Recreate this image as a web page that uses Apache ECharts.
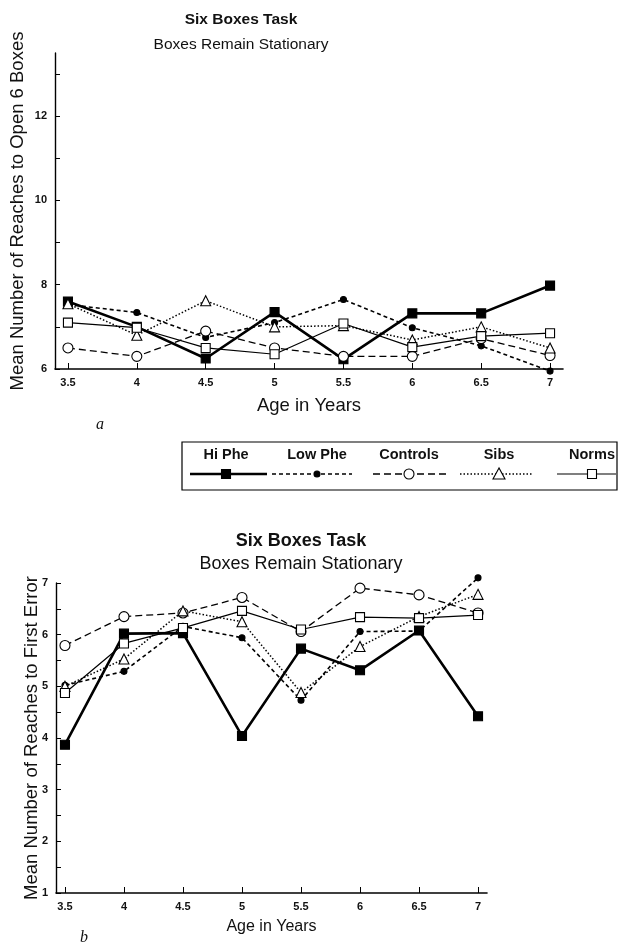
<!DOCTYPE html>
<html>
<head>
<meta charset="utf-8">
<script src="https://cdn.jsdelivr.net/npm/echarts@6/dist/echarts.min.js"></script>
<style>
  html, body { margin: 0; padding: 0; background: #fff; }
  #main { width: 625px; height: 949px; }
</style>
</head>
<body>
<div id="main"></div>
<script>
var ages = [3.5, 4, 4.5, 5, 5.5, 6, 6.5, 7];
var groups = ['Hi Phe', 'Low Phe', 'Controls', 'Sibs', 'Norms'];

// panel a: reaches to open 6 boxes
var hiPheA = [7.6, 7.0, 6.25, 7.35, 6.23, 7.32, 7.32, 7.98];
var lowPheA = [7.53, 7.34, 6.75, 7.1, 7.65, 6.98, 6.55, 5.95];
var controlsA = [6.5, 6.3, 6.9, 6.5, 6.3, 6.3, 6.72, 6.32];
var sibsA = [7.55, 6.8, 7.62, 7.0, 7.03, 6.69, 7.0, 6.5];
var normsA = [7.1, 6.98, 6.5, 6.35, 7.08, 6.52, 6.78, 6.85];

// panel b: reaches to first error
var hiPheB = [3.87, 6.02, 6.03, 4.04, 5.73, 5.31, 6.08, 4.42];
var lowPheB = [5.02, 5.29, 6.16, 5.94, 4.73, 6.06, 6.07, 7.1];
var controlsB = [5.79, 6.35, 6.42, 6.72, 6.06, 6.9, 6.77, 6.42];
var sibsB = [5.0, 5.53, 6.46, 6.25, 4.88, 5.77, 6.35, 6.78];
var normsB = [4.87, 5.83, 6.13, 6.46, 6.1, 6.34, 6.32, 6.38];

var yTicksA = [6, 7, 8, 9, 10, 11, 12, 13];
var yLabelsA = [6, 8, 10, 12];
var yTicksB = [1, 1.5, 2, 2.5, 3, 3.5, 4, 4.5, 5, 5.5, 6, 6.5, 7];
var yLabelsB = [1, 2, 3, 4, 5, 6, 7];

var FONT = '"Liberation Sans", Arial, sans-serif';

var styles = {
  'Hi Phe':   { symbol: 'rect', size: 9, dash: 'solid', width: 2.6, fill: '#000' },
  'Low Phe':  { symbol: 'circle', size: 6, dash: [4, 3], width: 1.6, fill: '#000' },
  'Controls': { symbol: 'circle', size: 10, dash: [7, 4], width: 1.3, fill: '#fff' },
  'Sibs':     { symbol: 'triangle', size: 10, dash: [1.5, 2], width: 1.5, fill: '#fff' },
  'Norms':    { symbol: 'rect', size: 9, dash: 'solid', width: 1.2, fill: '#fff' }
};

function pairs(vals) {
  return ages.map(function (a, i) { return [a, vals[i]]; });
}

function makeSeries(name, vals, idx) {
  var s = styles[name];
  return {
    name: name,
    type: 'line',
    xAxisIndex: idx,
    yAxisIndex: idx,
    data: pairs(vals),
    clip: false,
    symbol: s.symbol,
    symbolSize: s.size,
    showAllSymbol: true,
    lineStyle: { color: '#000', width: s.width, type: s.dash },
    itemStyle: { color: s.fill, borderColor: '#000', borderWidth: 1.1 },
    animation: false
  };
}

function xAxisOf(idx, min, max, gap, nameSize) {
  return {
    type: 'value',
    gridIndex: idx,
    min: min,
    max: max,
    name: 'Age in Years',
    nameLocation: 'middle',
    nameGap: gap,
    nameMoveOverlap: false,
    nameTextStyle: { fontFamily: FONT, fontSize: nameSize, color: '#111' },
    axisLine: { lineStyle: { color: '#000', width: 1.6 } },
    axisTick: { inside: true, length: 6, customValues: ages, lineStyle: { color: '#000' } },
    axisLabel: { customValues: ages, margin: 8, fontFamily: FONT, fontWeight: 'bold', fontSize: 11, color: '#111' },
    splitLine: { show: false }
  };
}

function yAxisOf(idx, min, max, ticks, labels, title, gap) {
  return {
    type: 'value',
    gridIndex: idx,
    min: min,
    max: max,
    name: title,
    nameLocation: 'middle',
    nameGap: gap,
    nameRotate: 90,
    nameMoveOverlap: false,
    nameTextStyle: { fontFamily: FONT, fontSize: 18.5, color: '#111' },
    axisLine: { show: true, lineStyle: { color: '#000', width: 1.4 } },
    axisTick: { inside: true, length: 5, customValues: ticks, lineStyle: { color: '#000' } },
    axisLabel: { customValues: labels, margin: 8, fontFamily: FONT, fontWeight: 'bold', fontSize: 11, color: '#111' },
    splitLine: { show: false }
  };
}

// legend drawn as a boxed row: name above, line sample with marker below
var legendItems = [
  { name: 'Hi Phe', cx: 226, x1: 190, x2: 267 },
  { name: 'Low Phe', cx: 317, x1: 272, x2: 352 },
  { name: 'Controls', cx: 409, x1: 373, x2: 447 },
  { name: 'Sibs', cx: 499, x1: 460, x2: 532 },
  { name: 'Norms', cx: 592, x1: 557, x2: 616 }
];
var legendGraphics = [{
  type: 'rect',
  shape: { x: 182, y: 442, width: 435, height: 48 },
  style: { fill: 'none', stroke: '#000', lineWidth: 1.2 }
}];
legendItems.forEach(function (it) {
  var s = styles[it.name];
  legendGraphics.push({
    type: 'text', x: it.cx, y: 455,
    style: { text: it.name, fontFamily: FONT, fontSize: 14.5, fontWeight: 'bold', fill: '#111', align: 'center', verticalAlign: 'middle' }
  });
  legendGraphics.push({
    type: 'line', shape: { x1: it.x1, y1: 474, x2: it.x2, y2: 474 },
    style: { stroke: '#000', lineWidth: s.width, lineDash: s.dash === 'solid' ? null : s.dash }
  });
  var mk;
  if (s.symbol === 'rect') {
    mk = { type: 'rect', shape: { x: it.cx - s.size / 2, y: 474 - s.size / 2, width: s.size, height: s.size } };
  } else if (s.symbol === 'circle') {
    mk = { type: 'circle', shape: { cx: it.cx, cy: 474, r: s.size / 2 } };
  } else {
    mk = { type: 'polygon', shape: { points: [[it.cx, 468], [it.cx - 6, 479], [it.cx + 6, 479]] } };
  }
  mk.style = { fill: s.fill, stroke: '#000', lineWidth: 1.1 };
  legendGraphics.push(mk);
});
legendGraphics.push({
  type: 'text', x: 100, y: 425,
  style: { text: 'a', fontFamily: '"Liberation Serif", serif', fontStyle: 'italic', fontSize: 16, fill: '#111', align: 'center', verticalAlign: 'middle' }
});
legendGraphics.push({
  type: 'text', x: 84, y: 938,
  style: { text: 'b', fontFamily: '"Liberation Serif", serif', fontStyle: 'italic', fontSize: 16, fill: '#111', align: 'center', verticalAlign: 'middle' }
});

var chartDom = document.getElementById('main');
var myChart = echarts.init(chartDom);

var series = [];
[hiPheA, lowPheA, controlsA, sibsA, normsA].forEach(function (v, i) {
  series.push(makeSeries(groups[i], v, 0));
});
[hiPheB, lowPheB, controlsB, sibsB, normsB].forEach(function (v, i) {
  series.push(makeSeries(groups[i], v, 1));
});

var option = {
  backgroundColor: '#fff',
  animation: false,
  title: [
    { text: 'Six Boxes Task', left: 236, top: 7, textAlign: 'center',
      textStyle: { fontFamily: FONT, fontSize: 15.5, fontWeight: 'bold', color: '#111' } },
    { text: 'Boxes Remain Stationary', left: 236, top: 32, textAlign: 'center',
      textStyle: { fontFamily: FONT, fontSize: 15.5, fontWeight: 'normal', color: '#111' } },
    { text: 'Six Boxes Task', left: 296, top: 527, textAlign: 'center',
      textStyle: { fontFamily: FONT, fontSize: 18, fontWeight: 'bold', color: '#111' } },
    { text: 'Boxes Remain Stationary', left: 296, top: 550, textAlign: 'center',
      textStyle: { fontFamily: FONT, fontSize: 18, fontWeight: 'normal', color: '#111' } }
  ],
  grid: [
    { left: 52, right: 62, top: 53, height: 316 },
    { left: 56, right: 138, top: 583, height: 310 }
  ],
  xAxis: [
    xAxisOf(0, 3.406, 7.094, 27, 18.5),
    xAxisOf(1, 3.424, 7.076, 26, 16)
  ],
  yAxis: [
    yAxisOf(0, 6, 13.5, yTicksA, yLabelsA, 'Mean Number of Reaches to Open 6 Boxes', 28),
    yAxisOf(1, 1, 7, yTicksB, yLabelsB, 'Mean Number of Reaches to First Error', 15)
  ],
  graphic: legendGraphics,
  series: series
};

myChart.setOption(option);
window.addEventListener('resize', function () { myChart.resize(); });
</script>
</body>
</html>
